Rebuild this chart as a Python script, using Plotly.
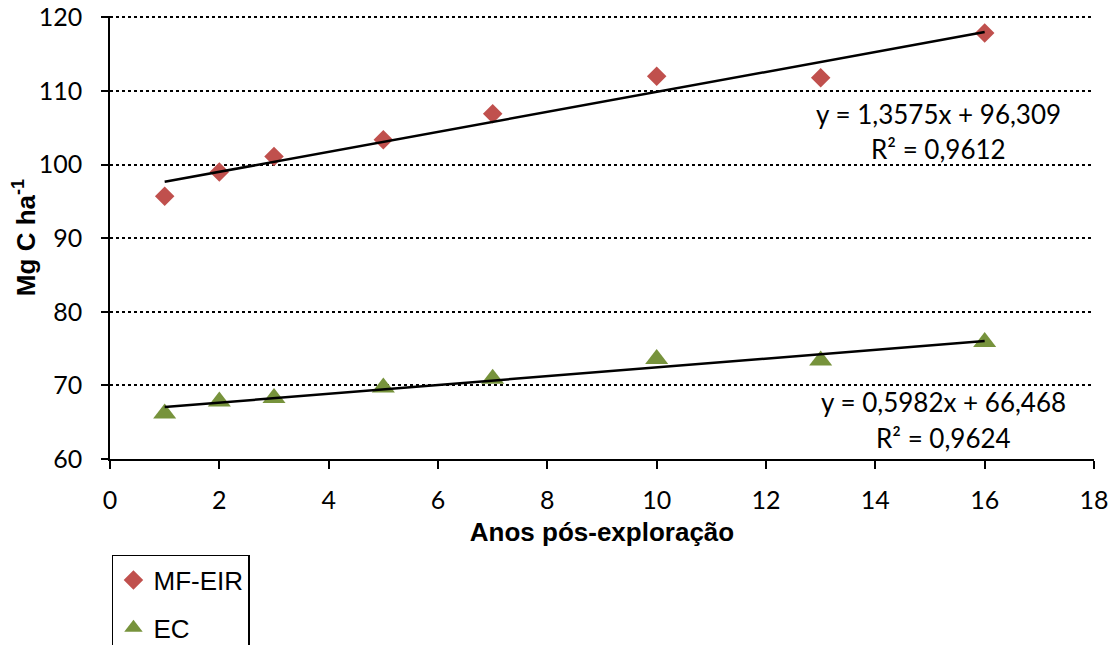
import plotly.graph_objects as go
import numpy as np

anos = [1, 2, 3, 5, 7, 10, 13, 16]
mf_eir = [95.7, 99.0, 101.1, 103.4, 106.9, 112.0, 111.8, 117.9]
ec = [66.2, 67.8, 68.3, 69.7, 70.9, 73.6, 73.4, 75.9]
mf_coef = [1.3575, 96.309]
ec_coef = [0.5982, 66.468]
mf_r2 = "0,9612"
ec_r2 = "0,9624"
x_ticks = list(range(0, 20, 2))
y_ticks = list(range(60, 130, 10))

red = "#C0504D"
green = "#77933C"

fig = go.Figure()
fig.add_trace(go.Scatter(x=anos, y=mf_eir, mode="markers", name="MF-EIR",
                         legendgroup="a",
                         marker=dict(symbol="diamond", size=15, color=red)))
fig.add_trace(go.Scatter(x=anos, y=ec, mode="markers", name="EC",
                         legendgroup="b",
                         marker=dict(symbol="triangle-up", size=20, color=green)))

xs = np.array([min(anos), max(anos)])
for coef in (mf_coef, ec_coef):
    fig.add_trace(go.Scatter(x=xs, y=coef[0] * xs + coef[1], mode="lines",
                             line=dict(color="black", width=2.5),
                             showlegend=False, hoverinfo="skip"))

def fmt(v, nd):
    return f"{v:.{nd}f}".replace(".", ",")

ann_font = dict(family="Lato, Carlito, sans-serif", size=26, color="black")
labels = [
    (15.15, 106.94, f"y = {fmt(mf_coef[0],4)}x + {fmt(mf_coef[1],3)}"),
    (15.15, 102.18, f"R² = {mf_r2}"),
    (15.25, 67.76, f"y = {fmt(ec_coef[0],4)}x + {fmt(ec_coef[1],3)}"),
    (15.25, 62.86, f"R² = {ec_r2}"),
]
for x, y, t in labels:
    fig.add_annotation(x=x, y=y, xref="x", yref="y", showarrow=False,
                       text=t, font=ann_font, xanchor="center", yanchor="middle")

fig.update_layout(
    width=1109, height=637,
    margin=dict(l=102, r=23, t=7.5, b=186),
    paper_bgcolor="white", plot_bgcolor="white",
    font=dict(family="Liberation Sans, Arial, sans-serif", color="black", size=20),
    legend=dict(x=0.002, y=0.1413, xref="paper", yref="container",
                xanchor="left", yanchor="top",
                bordercolor="black", borderwidth=1.5, bgcolor="white",
                font=dict(size=26, family="Liberation Sans, Arial, sans-serif"),
                traceorder="grouped", tracegroupgap=11,
                itemwidth=30),
    xaxis=dict(range=[0, 18], tickvals=x_ticks, showgrid=False, zeroline=False,
               automargin=False, ticklabeloverflow="allow",
               showline=True, linecolor="black", linewidth=1.5,
               ticks="outside", tickcolor="black", ticklen=8, tickwidth=1.5,
               ticklabelstandoff=10,
               tickfont=dict(size=25, family="Lato, Carlito, sans-serif"),
               title=dict(text="<b>Anos pós-exploração</b>",
                          font=dict(size=26, family="Liberation Sans, Arial, sans-serif"),
                          standoff=10)),
    yaxis=dict(range=[60, 120.2], tickvals=y_ticks, showgrid=True,
               automargin=False, ticklabeloverflow="allow",
               gridcolor="black", griddash="dot", gridwidth=1.5, zeroline=False,
               showline=True, linecolor="black", linewidth=1.5,
               ticks="outside", tickcolor="black", ticklen=7, tickwidth=1.5,
               ticklabelstandoff=14,
               tickfont=dict(size=25, family="Lato, Carlito, sans-serif"),
               title=dict(text="<b>Mg C ha<sup>-1</sup></b>",
                          font=dict(size=26, family="Liberation Sans, Arial, sans-serif"),
                          standoff=4)),
)

fig.write_html("out.html")
